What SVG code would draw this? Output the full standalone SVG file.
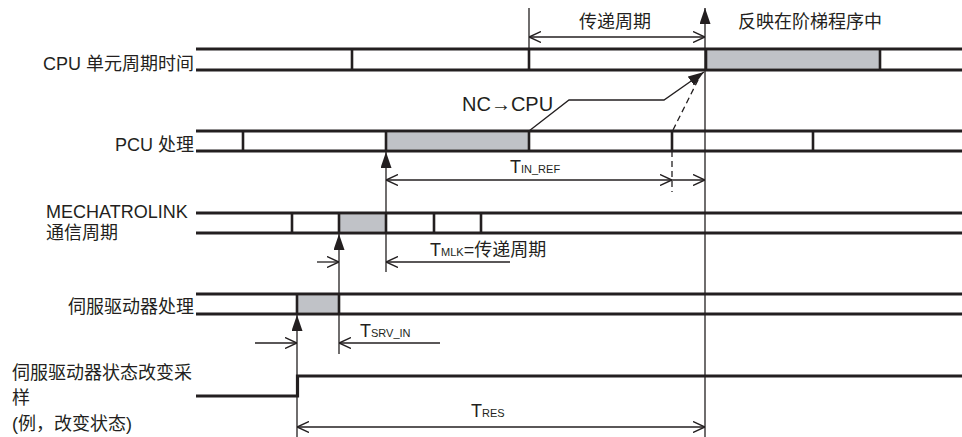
<svg xmlns="http://www.w3.org/2000/svg" width="962" height="437" viewBox="0 0 962 437">
<style>
text{font-family:"Liberation Sans","Noto Sans CJK SC",sans-serif;font-size:18px;fill:#231f20}
.sub{font-size:11px}
.rl{stroke:#231f20;stroke-width:3.2;fill:none}
.dv{stroke:#231f20;stroke-width:2.6;fill:none}
.gr{fill:#c0c2c7}
.th{stroke:#231f20;stroke-width:1.3;fill:none}
.da{stroke:#231f20;stroke-width:1.3;fill:none;stroke-dasharray:6 4}
</style>
<defs>
<marker id="open" viewBox="0 0 12 12" refX="12" refY="6" markerWidth="12" markerHeight="12" markerUnits="userSpaceOnUse" orient="auto-start-reverse">
<path d="M0,0.5 L12,6 L0,11.5" fill="none" stroke="#231f20" stroke-width="1.4"/>
</marker>
<marker id="solid" viewBox="0 0 16 11" refX="16" refY="5.5" markerWidth="16" markerHeight="11" markerUnits="userSpaceOnUse" orient="auto">
<path d="M0,0 L16,5.5 L0,11 Z" fill="#231f20"/>
</marker>
</defs>

<g id="labels">
<text x="194" y="70" text-anchor="end">CPU 单元周期时间</text>
<text x="194" y="151" text-anchor="end">PCU 处理</text>
<text x="46" y="218">MECHATROLINK</text>
<text x="46" y="239">通信周期</text>
<text x="194" y="313" text-anchor="end">伺服驱动器处理</text>
<text x="12" y="379">伺服驱动器状态改变采</text>
<text x="12" y="404">样</text>
<text x="12" y="430">(例，改变状态)</text>
<text x="579" y="28">传递周期</text>
<text x="738" y="28">反映在阶梯程序中</text>
<text x="462" y="111" style="font-size:20px">NC→CPU</text>
<text x="510" y="173">T<tspan class="sub">IN_REF</tspan></text>
<text x="430" y="256">T<tspan class="sub">MLK</tspan>=传递周期</text>
<text x="360" y="337">T<tspan class="sub">SRV_IN</tspan></text>
<text x="471" y="417">T<tspan class="sub">RES</tspan></text>
</g>

<g id="cpu">
<rect class="gr" x="706" y="50.5" width="174" height="18"/>
<line class="rl" x1="196" y1="49" x2="962" y2="49"/>
<line class="rl" x1="196" y1="70" x2="962" y2="70"/>
<line class="dv" x1="352" y1="49" x2="352" y2="70"/>
<line class="dv" x1="529" y1="49" x2="529" y2="70"/>
<line class="dv" x1="706" y1="49" x2="706" y2="70"/>
<line class="dv" x1="880" y1="49" x2="880" y2="70"/>
</g>

<g id="pcu">
<rect class="gr" x="386" y="132.5" width="143" height="17"/>
<line class="rl" x1="196" y1="131" x2="962" y2="131"/>
<line class="rl" x1="196" y1="151" x2="962" y2="151"/>
<line class="dv" x1="243" y1="131" x2="243" y2="151"/>
<line class="dv" x1="386" y1="131" x2="386" y2="151"/>
<line class="dv" x1="529" y1="131" x2="529" y2="151"/>
<line class="dv" x1="672" y1="131" x2="672" y2="151"/>
<line class="dv" x1="813" y1="131" x2="813" y2="151"/>
</g>

<g id="mlk">
<rect class="gr" x="339" y="214.5" width="47" height="17"/>
<line class="rl" x1="196" y1="213" x2="962" y2="213"/>
<line class="rl" x1="196" y1="233" x2="962" y2="233"/>
<line class="dv" x1="292" y1="213" x2="292" y2="233"/>
<line class="dv" x1="339" y1="213" x2="339" y2="233"/>
<line class="dv" x1="386" y1="213" x2="386" y2="233"/>
<line class="dv" x1="434" y1="213" x2="434" y2="233"/>
<line class="dv" x1="481" y1="213" x2="481" y2="233"/>
</g>

<g id="servo">
<rect class="gr" x="297" y="295.5" width="42" height="17"/>
<line class="rl" x1="196" y1="294" x2="962" y2="294"/>
<line class="rl" x1="196" y1="314" x2="962" y2="314"/>
<line class="dv" x1="297" y1="294" x2="297" y2="314"/>
<line class="dv" x1="339" y1="294" x2="339" y2="314"/>
</g>

<g id="signal">
<path class="rl" d="M196,396 H297.5 V376 H962"/>
</g>

<g id="connectors">
<line class="th" x1="529" y1="8" x2="529" y2="49"/>
<path class="th" d="M705,437 V8" marker-end="url(#solid)"/>
<path class="th" d="M386,272 V152" marker-end="url(#solid)"/>
<path class="th" d="M339,354 V234" marker-end="url(#solid)"/>
<path class="th" d="M297,437 V315" marker-end="url(#solid)"/>
<path class="th" d="M529,37 H705" marker-start="url(#open)" marker-end="url(#open)"/>
<path class="th" d="M386,180 H672" marker-start="url(#open)" marker-end="url(#open)"/>
<path class="th" d="M672,180 H705" marker-end="url(#open)"/>
<path class="th" d="M317,262 H339" marker-end="url(#open)"/>
<path class="th" d="M510,262 H386" marker-end="url(#open)"/>
<path class="th" d="M255,343 H297" marker-end="url(#open)"/>
<path class="th" d="M440,343 H339" marker-end="url(#open)"/>
<path class="th" d="M297,427 H705" marker-start="url(#open)" marker-end="url(#open)"/>
<path class="th" d="M529,131 L569,100 H664 L704,72" marker-end="url(#solid)"/>
<path class="da" d="M672,151 V192"/>
<path class="da" d="M673,130 L699,78"/>
</g>
</svg>
